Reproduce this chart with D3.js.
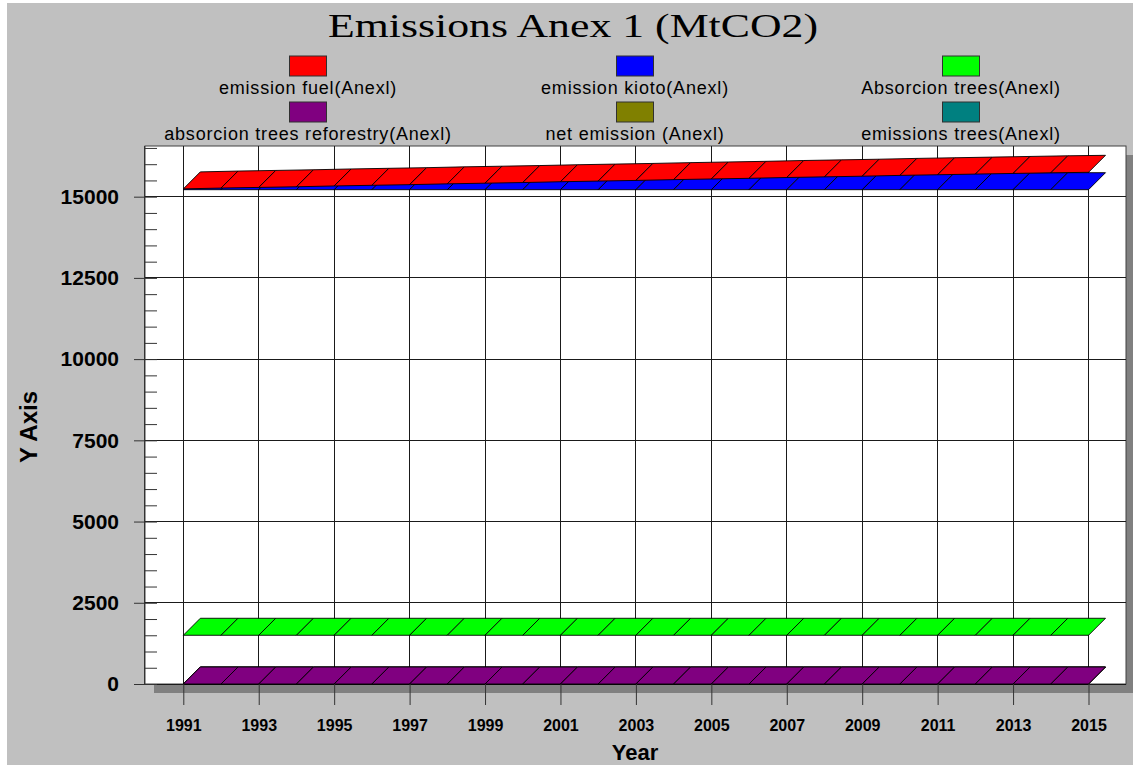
<!DOCTYPE html>
<html>
<head>
<meta charset="utf-8">
<script src="https://cdn.jsdelivr.net/npm/d3@7"></script>
<style>
  html, body { margin: 0; padding: 0; background: #ffffff; overflow: hidden; }
  text { fill: #000; }
</style>
</head>
<body>
<svg id="chart" width="1133" height="765"></svg>
<script>
// ---- data (MtCO2) ----
const years = [1991, 1992, 1993, 1994, 1995, 1996, 1997, 1998, 1999, 2000, 2001, 2002, 2003,
               2004, 2005, 2006, 2007, 2008, 2009, 2010, 2011, 2012, 2013, 2014, 2015];

const emissionFuel = [15240, 15265, 15285, 15305, 15330, 15350, 15370, 15395, 15415, 15435, 15460, 15480, 15500,
                      15525, 15545, 15565, 15590, 15610, 15630, 15655, 15675, 15695, 15715, 15735, 15750];
const emissionKioto = [15215, 15215, 15215, 15215, 15215, 15215, 15215, 15215, 15215, 15215, 15215, 15215, 15215,
                       15215, 15215, 15215, 15215, 15215, 15215, 15215, 15215, 15215, 15215, 15215, 15215];
const absorcionTrees = [1500, 1500, 1500, 1500, 1500, 1500, 1500, 1500, 1500, 1500, 1500, 1500, 1500,
                        1500, 1500, 1500, 1500, 1500, 1500, 1500, 1500, 1500, 1500, 1500, 1500];
const absorcionReforestry = [0, 0, 0, 0, 0, 0, 0, 0, 0, 0, 0, 0, 0,
                             0, 0, 0, 0, 0, 0, 0, 0, 0, 0, 0, 0];
const netEmission = [0, 0, 0, 0, 0, 0, 0, 0, 0, 0, 0, 0, 0,
                     0, 0, 0, 0, 0, 0, 0, 0, 0, 0, 0, 0];
const emissionsTrees = [0, 0, 0, 0, 0, 0, 0, 0, 0, 0, 0, 0, 0,
                        0, 0, 0, 0, 0, 0, 0, 0, 0, 0, 0, 0];

const seriesNames = ["emission fuel(Anexl)", "emission kioto(Anexl)", "Absorcion trees(Anexl)",
                     "absorcion trees reforestry(Anexl)", "net emission (Anexl)", "emissions trees(Anexl)"];
const seriesColors = ["#ff0000", "#0000ff", "#00ff00", "#800080", "#808000", "#008080"];
const seriesValues = [emissionFuel, emissionKioto, absorcionTrees, absorcionReforestry, netEmission, emissionsTrees];

const yTickValues = [0, 2500, 5000, 7500, 10000, 12500, 15000];
const yMinorValues = [500, 1000, 1500, 2000, 3000, 3500, 4000, 4500, 5500, 6000, 6500, 7000,
                      8000, 8500, 9000, 9500, 10500, 11000, 11500, 12000, 13000, 13500, 14000, 14500,
                      15500, 16000, 16500];
const xTickValues = [1991, 1993, 1995, 1997, 1999, 2001, 2003, 2005, 2007, 2009, 2011, 2013, 2015];

const titleText = "Emissions Anex 1 (MtCO2)";
const yTitle = "Y Axis";
const xTitle = "Year";

// ---- layout ----
const plot = { left: 145, right: 1126, top: 146, bottom: 684 };
const depth = { dx: 17, dy: -17 };
const SANS = "'Liberation Sans', Arial, sans-serif";

const x = d3.scaleLinear().domain([1991, 2015]).range([183.3, 1088.5]);
const y = d3.scaleLinear().domain([0, 16560]).range([plot.bottom, plot.top]);

const svg = d3.select("#chart");

// panel background
svg.append("rect").attr("x", 7).attr("y", 3).attr("width", 1126).attr("height", 762).attr("fill", "#c0c0c0");

// title
svg.append("text")
  .attr("x", 573).attr("y", 37)
  .attr("text-anchor", "middle")
  .attr("font-family", "'Liberation Serif', 'Times New Roman', serif")
  .attr("font-size", 33)
  .attr("textLength", 490)
  .attr("lengthAdjust", "spacingAndGlyphs")
  .text(titleText);

// legend: three columns, two rows
const legendCols = [308, 635, 961];
const legendSwatchY = [56, 102];
const legendTextY = [94, 140];
const legend = svg.append("g");
seriesNames.forEach((name, i) => {
  const col = i % 3, row = Math.floor(i / 3);
  const cx = legendCols[col];
  legend.append("rect")
    .attr("x", cx - 18.5).attr("y", legendSwatchY[row])
    .attr("width", 37).attr("height", 20)
    .attr("fill", seriesColors[i])
    .attr("stroke", "#303030").attr("stroke-width", 1);
  legend.append("text")
    .attr("x", cx).attr("y", legendTextY[row])
    .attr("text-anchor", "middle")
    .attr("font-family", SANS).attr("font-size", 18)
    .attr("letter-spacing", 0.8)
    .text(name);
});

// plot shadow
svg.append("rect")
  .attr("x", plot.left + 9).attr("y", plot.top + 9)
  .attr("width", plot.right - plot.left).attr("height", plot.bottom - plot.top)
  .attr("fill", "#808080");

// plot area
svg.append("rect")
  .attr("x", plot.left).attr("y", plot.top)
  .attr("width", plot.right - plot.left).attr("height", plot.bottom - plot.top)
  .attr("fill", "#ffffff")
  .attr("stroke", "#404040").attr("stroke-width", 1);

// grid
const grid = svg.append("g").attr("stroke", "#1a1a1a").attr("stroke-width", 1).attr("shape-rendering", "crispEdges");
grid.selectAll("line.h").data(yTickValues).join("line")
  .attr("x1", plot.left).attr("x2", plot.right)
  .attr("y1", d => y(d)).attr("y2", d => y(d));
grid.selectAll("line.v").data(xTickValues).join("line")
  .attr("x1", d => x(d)).attr("x2", d => x(d))
  .attr("y1", plot.top).attr("y2", plot.bottom);

// 3D ribbons, back-most series first so the first series lands on top
const ribbons = svg.append("g");
for (let s = seriesValues.length - 1; s >= 0; s--) {
  const vals = seriesValues[s];
  const segs = d3.range(years.length - 1).map(i => {
    const x0 = x(years[i]), x1 = x(years[i + 1]);
    const y0 = y(vals[i]), y1 = y(vals[i + 1]);
    return [[x0, y0], [x1, y1], [x1 + depth.dx, y1 + depth.dy], [x0 + depth.dx, y0 + depth.dy]];
  });
  ribbons.append("g").selectAll("polygon").data(segs).join("polygon")
    .attr("points", d => d.map(p => p.join(",")).join(" "))
    .attr("fill", seriesColors[s])
    .attr("stroke", "#000").attr("stroke-width", 0.9)
    .attr("stroke-linejoin", "round");
}

// y axis: minor ticks, major ticks with labels, axis line
const axisX = 157;
svg.append("g").attr("transform", `translate(${axisX},0)`)
  .call(d3.axisLeft(y).tickValues(yMinorValues).tickSize(13).tickFormat(""))
  .call(g => g.select(".domain").remove())
  .call(g => g.selectAll("line").attr("stroke", "#333"));

svg.append("g").attr("transform", `translate(${axisX},0)`)
  .call(d3.axisLeft(y).tickValues(yTickValues).tickSize(23).tickPadding(15).tickFormat(d3.format("d")))
  .call(g => g.select(".domain").remove())
  .call(g => g.selectAll("line").attr("stroke", "#333"))
  .call(g => g.selectAll("text")
    .attr("font-family", SANS).attr("font-size", 21).attr("font-weight", "bold").attr("fill", "#000"));

svg.append("line")
  .attr("x1", 144).attr("x2", 144).attr("y1", plot.top).attr("y2", plot.bottom)
  .attr("stroke", "#333").attr("stroke-width", 1).attr("shape-rendering", "crispEdges");

// x axis ticks and labels
svg.append("g").attr("transform", `translate(0,${plot.bottom})`)
  .call(d3.axisBottom(x).tickValues(xTickValues).tickSize(21).tickPadding(15).tickFormat(d3.format("d")))
  .call(g => g.select(".domain").remove())
  .call(g => g.selectAll("line").attr("stroke", "#333"))
  .call(g => g.selectAll("text")
    .attr("font-family", SANS).attr("font-size", 16).attr("font-weight", "bold").attr("fill", "#000"));

// axis titles
svg.append("text")
  .attr("transform", "translate(37,427) rotate(-90)")
  .attr("text-anchor", "middle")
  .attr("font-family", SANS).attr("font-size", 24).attr("font-weight", "bold")
  .text(yTitle);

svg.append("text")
  .attr("x", 635).attr("y", 760)
  .attr("text-anchor", "middle")
  .attr("font-family", SANS).attr("font-size", 22).attr("font-weight", "bold")
  .text(xTitle);
</script>
</body>
</html>
